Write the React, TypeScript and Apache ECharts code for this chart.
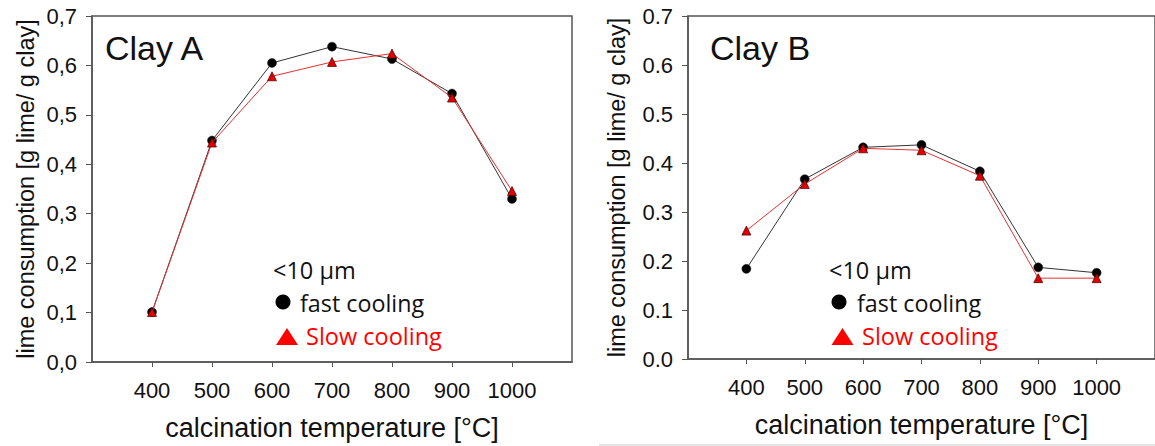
import React, { useEffect, useRef } from "react";
import * as echarts from "echarts";

const temperatures = [400, 500, 600, 700, 800, 900, 1000];
const clayAFast = [0.101, 0.448, 0.605, 0.638, 0.613, 0.543, 0.33];
const clayASlow = [0.101, 0.444, 0.578, 0.607, 0.624, 0.535, 0.346];
const clayBFast = [0.184, 0.367, 0.432, 0.437, 0.383, 0.187, 0.176];
const clayBSlow = [0.262, 0.357, 0.43, 0.426, 0.374, 0.165, 0.165];
const panelTitles = ["Clay A", "Clay B"];
const seriesNames = ["fast cooling", "Slow cooling"];
const sizeLabel = "<10 µm";
const xAxisTitle = "calcination temperature [°C]";
const yAxisTitle = "lime consumption [g lime/ g clay]";

const AXIS = "#555";
const TEXT = "#111";
const RED = "#ff0000";
const TICK_FONT = "'Liberation Sans', Arial, sans-serif";
const LEG_FONT = "'Open Sans', 'Noto Sans', sans-serif";

function pairs(vals: number[]) {
  return temperatures.map((t, i) => [t, vals[i]]);
}

export default function App() {
  const ref = useRef<HTMLDivElement>(null);
  useEffect(() => {
    document.body.style.margin = "0";
    const chart = echarts.init(ref.current!, undefined, { renderer: "svg" });

    const grids = [
      { left: 92, top: 16, width: 480, height: 346, show: true, borderColor: AXIS, borderWidth: 1.5 },
      { left: 688, top: 16, width: 475, height: 343, show: true, borderColor: AXIS, borderWidth: 1.5 },
    ];
    const nameGapsY = [54, 59];
    const decimalSep = [",", "."];

    const xAxes = grids.map((_, i) => ({
      type: "value",
      gridIndex: i,
      min: 300,
      max: 1100,
      interval: 100,
      splitLine: { show: false },
      axisLine: { lineStyle: { color: AXIS, width: 1.5 } },
      axisTick: { length: 5, customValues: temperatures, lineStyle: { color: AXIS, width: 1 } },
      axisLabel: {
        customValues: temperatures,
        margin: 17,
        fontSize: 22,
        fontFamily: TICK_FONT,
        color: TEXT,
        formatter: (v: number) => String(v),
      },
      name: xAxisTitle,
      nameLocation: "middle",
      nameGap: 52,
      nameTextStyle: { fontSize: 27, fontFamily: TICK_FONT, color: TEXT },
    }));

    const yAxes = grids.map((_, i) => ({
      type: "value",
      gridIndex: i,
      min: 0,
      max: 0.7,
      interval: 0.1,
      splitLine: { show: false },
      axisLine: { show: true, lineStyle: { color: AXIS, width: 1.5 } },
      axisTick: { show: true, length: 6, lineStyle: { color: AXIS, width: 1 } },
      axisLabel: {
        margin: 15,
        fontSize: 22,
        fontFamily: TICK_FONT,
        color: TEXT,
        formatter: (v: number) => v.toFixed(1).replace(".", decimalSep[i]),
      },
      name: yAxisTitle,
      nameLocation: "middle",
      nameRotate: 90,
      nameGap: nameGapsY[i],
      nameTextStyle: { fontSize: 23.5, fontFamily: TICK_FONT, color: TEXT },
    }));

    const panelData = [
      [clayAFast, clayASlow],
      [clayBFast, clayBSlow],
    ];
    const series: any[] = [];
    panelData.forEach((pd, i) => {
      series.push({
        type: "line",
        name: seriesNames[0],
        xAxisIndex: i,
        yAxisIndex: i,
        data: pairs(pd[0]),
        symbol: "circle",
        symbolSize: 9,
        itemStyle: { color: "#000", borderColor: "#222", borderWidth: 0.5 },
        lineStyle: { color: "#333", width: 1 },
        z: 2,
      });
      series.push({
        type: "line",
        name: seriesNames[1],
        xAxisIndex: i,
        yAxisIndex: i,
        data: pairs(pd[1]),
        symbol: "triangle",
        symbolSize: 9,
        itemStyle: { color: "#e00000", borderColor: "#400", borderWidth: 0.7 },
        lineStyle: { color: "#e63030", width: 1 },
        z: 3,
      });
    });

    const titlePos = [
      [105, 47.5],
      [710, 47.5],
    ];
    const legendPos = [
      { text: 273, circle: 283, fastText: 300, tri: 287, slowText: 306 },
      { text: 829, circle: 839, fastText: 857, tri: 842.5, slowText: 862 },
    ];

    const graphic: any[] = [];
    panelTitles.forEach((t, i) => {
      graphic.push({
        type: "text",
        x: titlePos[i][0],
        y: titlePos[i][1],
        style: {
          text: t,
          fontSize: 34,
          fontFamily: TICK_FONT,
          fill: TEXT,
          textAlign: "left",
          textVerticalAlign: "middle",
        },
      });
      const lp = legendPos[i];
      graphic.push({
        type: "text",
        x: lp.text,
        y: 270,
        style: { text: sizeLabel, fontSize: 23.5, fontFamily: LEG_FONT, fill: TEXT, textVerticalAlign: "middle" },
      });
      graphic.push({
        type: "circle",
        shape: { cx: lp.circle, cy: 302, r: 7.5 },
        style: { fill: "#000" },
      });
      graphic.push({
        type: "text",
        x: lp.fastText,
        y: 303,
        style: { text: seriesNames[0], fontSize: 23.3, fontFamily: LEG_FONT, fill: TEXT, textVerticalAlign: "middle" },
      });
      graphic.push({
        type: "polygon",
        shape: {
          points: [
            [lp.tri - 11, 345],
            [lp.tri, 328],
            [lp.tri + 11, 345],
          ],
        },
        style: { fill: RED },
      });
      graphic.push({
        type: "text",
        x: lp.slowText,
        y: 336,
        style: { text: seriesNames[1], fontSize: 23.5, fontFamily: LEG_FONT, fill: RED, textVerticalAlign: "middle" },
      });
    });
    graphic.push({
      type: "line",
      shape: { x1: 599, y1: 445, x2: 1155, y2: 445 },
      style: { stroke: "#c8c8c8", lineWidth: 1 },
    });

    chart.setOption({
      animation: false,
      backgroundColor: "#fff",
      grid: grids,
      xAxis: xAxes,
      yAxis: yAxes,
      series,
      graphic,
    });
    return () => chart.dispose();
  }, []);
  return <div ref={ref} style={{ width: 1155, height: 446 }} />;
}
